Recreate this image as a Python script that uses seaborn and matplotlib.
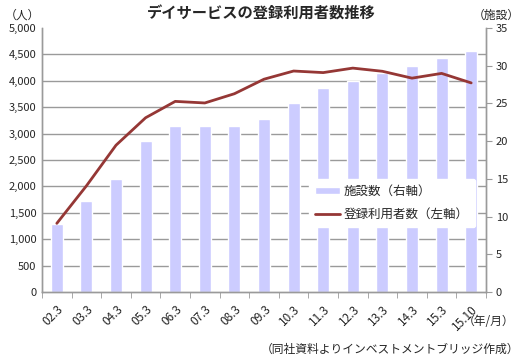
"""
    デイサービスの登録利用者数推移 (bars: facilities on right axis, line: users on left axis)
"""
import matplotlib
matplotlib.use('Agg')
import matplotlib.pyplot as plt
from matplotlib.ticker import MultipleLocator, FuncFormatter
import numpy as np
import pandas as pd
import seaborn as sns

periods = ['02.3', '03.3', '04.3', '05.3', '06.3', '07.3', '08.3', '09.3',
           '10.3', '11.3', '12.3', '13.3', '14.3', '15.3', '15.10']
facilities = [9, 12, 15, 20, 22, 22, 22, 23, 25, 27, 28, 29, 30, 31, 32]
users = [1300, 2010, 2780, 3300, 3610, 3580, 3755, 4030,
         4185, 4155, 4240, 4180, 4050, 4140, 3960]

df = pd.DataFrame({'period': periods, 'facilities': facilities, 'users': users})

sns.set_style('white')
plt.rcParams['font.family'] = ['Noto Sans CJK JP', 'DejaVu Sans']

bar_color = '#CCCCFF'
line_color = '#953735'
grid_color = '#9A9A9A'

fig = plt.figure(figsize=(5.22, 3.63), dpi=100)
ax_bar = fig.add_axes([0.0805, 0.1956, 0.8505, 0.7273])
ax_line = ax_bar.twinx()

# bars on the right axis
sns.barplot(data=df, x='period', y='facilities', color=bar_color, width=0.4,
            saturation=1, ax=ax_bar, zorder=2, label='施設数（右軸）')
if ax_bar.get_legend() is not None:
    ax_bar.get_legend().remove()
ax_bar.set_ylim(0, 35)
ax_bar.yaxis.tick_right()
ax_bar.yaxis.set_label_position('right')
ax_bar.yaxis.set_major_locator(MultipleLocator(5))
# gridlines follow the left axis (every 500 people == 3.5 facilities)
ax_bar.yaxis.set_minor_locator(MultipleLocator(3.5))
ax_bar.grid(which='minor', axis='y', color=grid_color, linewidth=1, zorder=0)
ax_bar.set_axisbelow(True)
ax_bar.tick_params(axis='y', which='minor', length=0)
ax_bar.tick_params(axis='y', which='major', length=4, color=grid_color,
                   labelsize=8, pad=3, direction='out', right=True, left=False)
ax_bar.set_xlim(-0.5, len(periods) - 0.5)
ax_bar.set_xlabel('')
ax_bar.set_ylabel('')

# x ticks: labels at centres, marks at boundaries
ax_bar.set_xticks(np.arange(len(periods)))
ax_bar.set_xticklabels(periods, rotation=45, ha='right', rotation_mode='anchor')
ax_bar.set_xticks(np.arange(len(periods) + 1) - 0.5, minor=True)
ax_bar.tick_params(axis='x', which='major', length=0, labelsize=8.5, pad=8)
ax_bar.tick_params(axis='x', which='minor', length=4, color=grid_color,
                   direction='out', bottom=True)

# line on the left axis
sns.lineplot(data=df, x='period', y='users', color=line_color, linewidth=2,
             ax=ax_line, sort=False, label='登録利用者数（左軸）')
ax_line.set_ylim(0, 5000)
ax_line.yaxis.tick_left()
ax_line.yaxis.set_major_locator(MultipleLocator(500))
ax_line.yaxis.set_major_formatter(FuncFormatter(lambda v, p: f'{int(v):,}'))
ax_line.tick_params(axis='y', length=0, labelsize=8, pad=4, labelleft=True, labelright=False)
ax_line.set_xlabel('')
ax_line.set_ylabel('')

for a in (ax_bar, ax_line):
    a.spines['top'].set_visible(False)
    for side in ['left', 'right', 'bottom']:
        a.spines[side].set_color(grid_color)
        a.spines[side].set_linewidth(1)

# legend
h1, l1 = ax_bar.get_legend_handles_labels()
h2, l2 = ax_line.get_legend_handles_labels()
ax_line.legend(h1 + h2, l1 + l2, loc='lower right', bbox_to_anchor=(0.99, 0.222),
               frameon=True, facecolor='white', edgecolor='white', framealpha=1,
               fontsize=9, handlelength=2.0, handleheight=0.6, labelspacing=0.8,
               borderpad=0.5, handletextpad=0.3)

# texts
fig.text(0.5, 0.985, 'デイサービスの登録利用者数推移', ha='center', va='top',
         fontsize=11, fontweight='bold')
fig.text(0.01, 0.975, '（人）', ha='left', va='top', fontsize=8.5)
fig.text(0.995, 0.975, '（施設）', ha='right', va='top', fontsize=8.5)
fig.text(0.985, 0.115, '（年/月）', ha='right', va='center', fontsize=8.5)
fig.text(0.995, 0.02, '（同社資料よりインベストメントブリッジ作成）', ha='right',
         va='bottom', fontsize=8.5)

fig.savefig('out.png', dpi=100)
